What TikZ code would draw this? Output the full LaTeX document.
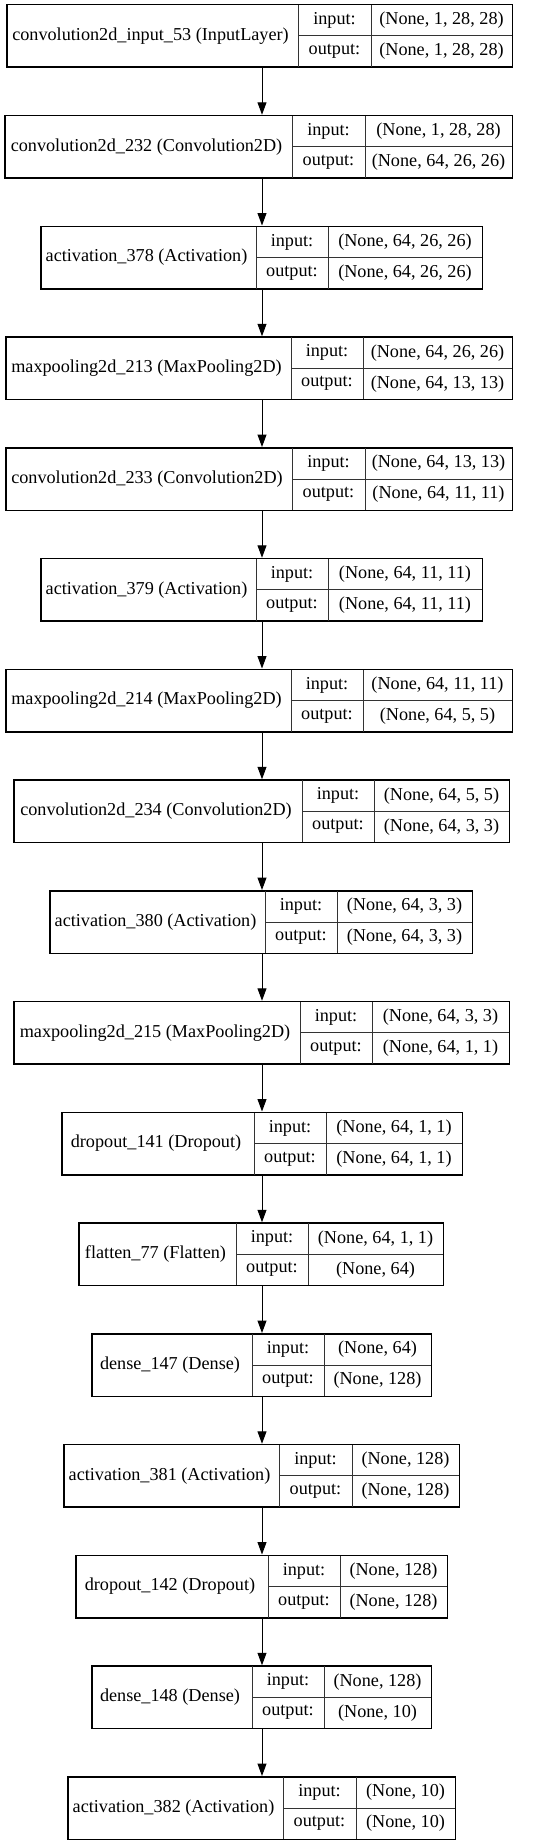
\documentclass[tikz,border=0pt]{standalone}
\usepackage{fontspec}
\setmainfont{Liberation Serif}
\usetikzlibrary{arrows.meta}
\tikzset{
  x=1pt, y=-1pt,
  box/.style={draw=black, line width=1pt, minimum height=62pt, inner sep=0pt, fill=white},
  cell/.style={draw=black!80, line width=1pt},
  txt/.style={inner sep=0pt, font=\fontsize{18.2}{22}\selectfont},
  arr/.style={draw=black, line width=1pt, -{Triangle[length=12.5pt,width=9pt]}, shorten >=0.5pt},
}
\newcommand\layer[9]{%
  \pgfmathsetmacro\lcx{(#3+#6)/2}%
  \pgfmathsetmacro\lcy{#2+31}%
  \pgfmathsetmacro\lwd{#6-#3}%
  \node[box, minimum width=\lwd pt] (#1) at (\lcx,\lcy) {};
  \draw[cell] (#4,#2) -- (#4,#2+62);
  \draw[cell] (#5,#2) -- (#5,#2+62);
  \draw[cell] (#4,\lcy) -- (#6,\lcy);
  \draw[line width=1pt] (#1.south west) rectangle (#1.north east);
  \node[txt] (#1-name) at ({(#3+#4)/2-2},\lcy) {#7};
  \node[txt] (#1-il) at ({(#4+#5)/2},#2+15.5) {input:};
  \node[txt] (#1-ol) at ({(#4+#5)/2},#2+46.5) {output:};
  \node[txt] (#1-iv) at ({(#5+#6)/2},#2+15.5) {#8};
  \node[txt] (#1-ov) at ({(#5+#6)/2},#2+46.5) {#9};
}
\begin{document}
\begin{tikzpicture}
\useasboundingbox[fill=white] (0,0) rectangle (541,1844);
\coordinate (ax) at (262,0);
\layer{L0}{5}{7}{298}{371}{512}{convolution2d\_input\_53 (InputLayer)}{(None, 1, 28, 28)}{(None, 1, 28, 28)}
\layer{L1}{115.75}{5}{292}{365}{512}{convolution2d\_232 (Convolution2D)}{(None, 1, 28, 28)}{(None, 64, 26, 26)}
\layer{L2}{226.5}{41}{256}{328}{482}{activation\_378 (Activation)}{(None, 64, 26, 26)}{(None, 64, 26, 26)}
\layer{L3}{337.25}{6}{291}{363}{512}{maxpooling2d\_213 (MaxPooling2D)}{(None, 64, 26, 26)}{(None, 64, 13, 13)}
\layer{L4}{448}{6}{292}{365}{512}{convolution2d\_233 (Convolution2D)}{(None, 64, 13, 13)}{(None, 64, 11, 11)}
\layer{L5}{558.75}{41}{256}{328}{482}{activation\_379 (Activation)}{(None, 64, 11, 11)}{(None, 64, 11, 11)}
\layer{L6}{669.5}{6}{291}{363}{512}{maxpooling2d\_214 (MaxPooling2D)}{(None, 64, 11, 11)}{(None, 64, 5, 5)}
\layer{L7}{780.25}{14}{302}{374}{509}{convolution2d\_234 (Convolution2D)}{(None, 64, 5, 5)}{(None, 64, 3, 3)}
\layer{L8}{891}{50}{265}{337}{472}{activation\_380 (Activation)}{(None, 64, 3, 3)}{(None, 64, 3, 3)}
\layer{L9}{1001.75}{14}{300}{372}{509}{maxpooling2d\_215 (MaxPooling2D)}{(None, 64, 3, 3)}{(None, 64, 1, 1)}
\layer{L10}{1112.5}{62}{254}{326}{462}{dropout\_141 (Dropout)}{(None, 64, 1, 1)}{(None, 64, 1, 1)}
\layer{L11}{1223.25}{79}{236}{308}{443}{flatten\_77 (Flatten)}{(None, 64, 1, 1)}{(None, 64)}
\layer{L12}{1334}{92}{252}{324}{431}{dense\_147 (Dense)}{(None, 64)}{(None, 128)}
\layer{L13}{1444.75}{64}{279}{352}{459}{activation\_381 (Activation)}{(None, 128)}{(None, 128)}
\layer{L14}{1555.5}{76}{268}{340}{447}{dropout\_142 (Dropout)}{(None, 128)}{(None, 128)}
\layer{L15}{1666.25}{92}{252}{324}{431}{dense\_148 (Dense)}{(None, 128)}{(None, 10)}
\layer{L16}{1777}{68}{283}{356}{455}{activation\_382 (Activation)}{(None, 10)}{(None, 10)}
\foreach \a/\b in {L0/L1,L1/L2,L2/L3,L3/L4,L4/L5,L5/L6,L6/L7,L7/L8,L8/L9,L9/L10,L10/L11,L11/L12,L12/L13,L13/L14,L14/L15,L15/L16}
  \draw[arr] (\a.south -| ax) -- (\b.north -| ax);
\end{tikzpicture}
\end{document}
